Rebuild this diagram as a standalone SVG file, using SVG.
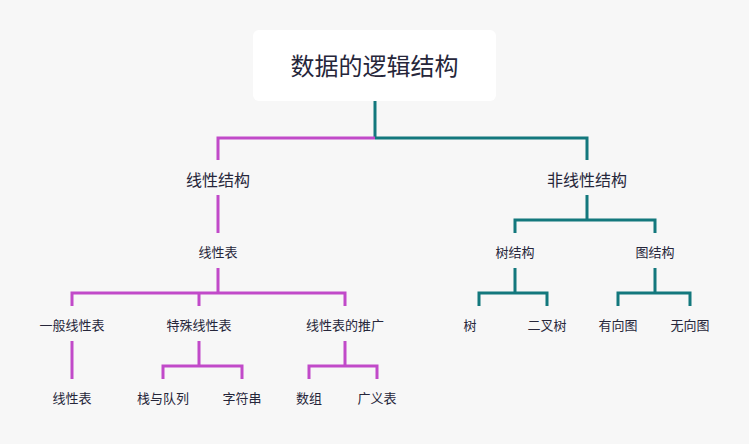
<svg xmlns="http://www.w3.org/2000/svg" width="749" height="444" viewBox="0 0 749 444">
  <style>
    text { font-family: "Noto Sans CJK SC", "Noto Sans", sans-serif; fill: #26263a; text-anchor: middle; }
    .t1 { font-size: 24px; }
    .t2 { font-size: 16px; }
    .t3 { font-size: 13px; }
    .lin { fill: none; stroke: #c14ac9; stroke-width: 3; }
    .non { fill: none; stroke: #13787d; stroke-width: 3; }
  </style>
  <rect width="749" height="444" fill="#f7f7f7"/>

  <g id="connectors">
    <!-- root stem -->
    <line class="non" x1="375" y1="101" x2="375" y2="138"/>
    <path class="lin" d="M375,138 H218 V160"/>
    <path class="non" d="M375,138 H587 V160"/>
    <!-- linear branch -->
    <line class="lin" x1="218" y1="195" x2="218" y2="233"/>
    <path class="lin" d="M218,268 V293 M72,306 V293 H345 V306 M199,293 V306"/>
    <line class="lin" x1="72" y1="341" x2="72" y2="379"/>
    <path class="lin" d="M199,341 V366 M163,379 V366 H242 V379"/>
    <path class="lin" d="M345,341 V366 M309,379 V366 H377 V379"/>
    <!-- non-linear branch -->
    <path class="non" d="M587,195 V220 M515,233 V220 H655 V233"/>
    <path class="non" d="M515,268 V293 M479,306 V293 H547 V306"/>
    <path class="non" d="M655,268 V293 M618,306 V293 H690 V306"/>
  </g>

  <g id="root">
    <rect x="253" y="30" width="243" height="71" rx="6" fill="#ffffff"/>
    <text class="t1" x="374.5" y="75">数据的逻辑结构</text>
  </g>
  <g id="linear"><text class="t2" x="218" y="186">线性结构</text></g>
  <g id="nonlinear"><text class="t2" x="587" y="186">非线性结构</text></g>
  <g id="linear-list"><text class="t3" x="218" y="257">线性表</text></g>
  <g id="general"><text class="t3" x="72" y="330">一般线性表</text></g>
  <g id="special"><text class="t3" x="199" y="330">特殊线性表</text></g>
  <g id="extension"><text class="t3" x="345" y="330">线性表的推广</text></g>
  <g id="list"><text class="t3" x="72" y="403">线性表</text></g>
  <g id="stack-queue"><text class="t3" x="163" y="403">栈与队列</text></g>
  <g id="string"><text class="t3" x="242" y="403">字符串</text></g>
  <g id="array"><text class="t3" x="309" y="403">数组</text></g>
  <g id="glist"><text class="t3" x="377" y="403">广义表</text></g>
  <g id="tree-struct"><text class="t3" x="515" y="257">树结构</text></g>
  <g id="graph-struct"><text class="t3" x="655" y="257">图结构</text></g>
  <g id="tree"><text class="t3" x="470" y="330">树</text></g>
  <g id="binary-tree"><text class="t3" x="547" y="330">二叉树</text></g>
  <g id="directed"><text class="t3" x="618" y="330">有向图</text></g>
  <g id="undirected"><text class="t3" x="690" y="330">无向图</text></g>
</svg>
